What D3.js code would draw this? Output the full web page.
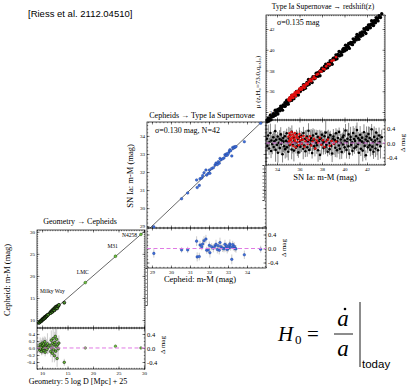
<!DOCTYPE html>
<html>
<head>
<meta charset="utf-8">
<script src="https://cdn.jsdelivr.net/npm/d3@7"></script>
<style>
body{margin:0;background:#fff;}
text{font-family:"Liberation Serif","Times New Roman",serif;fill:#000;}
.axis line{stroke:#000;stroke-width:0.5;}
</style>
</head>
<body>
<script>
// Geometry -> Cepheids (Milky Way parallaxes + anchors)
var mwX = [9.35,9.5,9.62,9.71,9.8,9.88,9.95,10.03,10.1,10.16,10.22,10.3,10.37,10.45,10.52,10.6,10.68,10.77,10.86,10.95,
  11.05,11.2,11.55,11.68,11.8,11.9,12.0,12.08,12.17,12.25,12.33,12.42,12.5,12.6,12.68,12.77,12.86,12.95,13.05,13.18,13.3,14.35];
var mwD = [0.02,-0.06,0.1,-0.03,0.05,-0.1,0.01,0.14,-0.05,0.07,-0.02,0.11,-0.08,0.03,0.18,-0.12,0.06,-0.01,0.09,-0.04,
  0.12,0.02,0.08,-0.1,0.22,0.0,-0.15,0.13,0.27,-0.05,0.09,-0.22,0.16,0.33,-0.09,0.05,0.25,-0.3,0.1,-0.02,0.14,-0.41];
var mwE = [0.15,0.1,0.2,0.12,0.18,0.09,0.22,0.14,0.11,0.25,0.13,0.17,0.1,0.2,0.15,0.12,0.24,0.09,0.16,0.13,
  0.3,0.18,0.22,0.15,0.28,0.2,0.26,0.17,0.32,0.21,0.25,0.19,0.3,0.23,0.27,0.2,0.31,0.24,0.18,0.26,0.22,0.1];
var anchNames = ["LMC","M31","N4258"];
var anchX = [18.48,24.4,29.4];
var anchD = [0.0,0.05,0.0];
var anchE = [0.03,0.05,0.03];

// Cepheids -> SN Ia (42 calibrators)
var cephX = [29.1,30.56,30.88,31.35,31.38,31.49,31.53,31.62,31.67,31.74,31.84,31.88,31.96,32.02,32.05,32.14,32.23,32.32,32.37,32.44,
  32.49,32.54,32.58,32.63,32.72,32.79,32.84,32.89,32.93,32.96,33.02,33.07,33.1,33.14,33.2,33.25,33.28,33.33,33.37,33.42,33.86,34.72];
var cephD = [-0.14,-0.04,-0.04,0.21,-0.24,-0.23,0.1,0.05,0.13,0.22,0.27,-0.05,-0.04,0.09,-0.12,0.05,0.01,0.07,0.12,-0.03,
  0.08,-0.05,0.17,0.05,0.01,-0.01,0.12,0.03,0.08,-0.03,0.01,0.08,0.13,0.04,-0.31,0.11,0.03,0.06,0.0,-0.01,-0.18,-0.02];
var cephE = [0.12,0.08,0.09,0.14,0.13,0.11,0.12,0.1,0.15,0.13,0.12,0.1,0.09,0.11,0.14,0.1,0.12,0.09,0.13,0.11,
  0.1,0.12,0.14,0.09,0.11,0.1,0.13,0.12,0.09,0.11,0.1,0.12,0.13,0.1,0.14,0.11,0.09,0.12,0.1,0.11,0.12,0.1];

// SN Ia -> redshift (black: Hubble flow sample, red: subsample)
var snX = [33.1,33.14,33.22,33.29,33.33,33.41,33.47,33.5,33.58,33.67,33.7,33.76,33.84,33.87,33.92,34.0,34.06,34.08,34.15,34.23,
  34.25,34.33,34.38,34.4,34.49,34.55,34.57,34.64,34.7,34.73,34.81,34.86,34.88,34.97,35.0,35.05,35.13,35.17,35.22,35.3,
  35.32,35.4,35.47,35.5,35.56,35.65,35.68,35.73,35.81,35.84,35.9,35.99,36.01,36.07,36.16,36.18,36.24,36.33,36.35,36.41,
  36.5,36.52,36.58,36.66,36.69,36.77,36.8,36.86,36.95,36.97,37.03,37.12,37.14,37.2,37.29,37.31,37.37,37.46,37.48,37.54,
  37.63,37.65,37.71,37.8,37.82,37.88,37.97,37.99,38.05,38.14,38.16,38.22,38.31,38.33,38.39,38.48,38.5,38.56,38.65,38.67,
  38.73,38.82,38.84,38.9,38.99,39.01,39.07,39.16,39.18,39.24,39.33,39.35,39.41,39.5,39.52,39.58,39.67,39.69,39.75,39.84,
  39.86,39.92,40.01,40.03,40.09,40.18,40.2,40.26,40.35,40.37,40.43,40.52,40.54,40.6,40.69,40.71,40.77,40.86,40.88,40.94,
  41.03,41.05,41.11,41.2,41.22,41.28,41.37,41.39,41.45,41.54,41.56,41.62,41.71,41.73,41.79,41.88,41.9,41.96,42.05,42.07,
  42.13,42.22,42.24,42.3,42.39,42.41,42.47,42.56,42.58,42.64,42.73,42.75,42.81,42.9,42.92,42.98,43.07,43.12,43.2,43.31];
var snD = [0.12,-0.08,0.21,-0.15,0.03,0.28,-0.22,0.07,-0.03,0.16,-0.11,0.05,0.33,-0.19,0.09,-0.05,0.18,-0.27,0.01,0.11,
  -0.14,0.24,-0.02,0.08,-0.31,0.14,0.04,-0.09,0.19,-0.17,0.06,0.27,-0.12,0.02,-0.24,0.13,-0.06,0.22,0.09,-0.18,
  0.31,-0.04,0.15,-0.21,0.07,0.01,-0.13,0.25,-0.08,0.11,-0.26,0.17,0.03,-0.1,0.2,-0.01,0.09,-0.16,0.28,-0.07,
  0.12,-0.23,0.05,0.18,-0.12,0.02,0.34,-0.19,0.08,-0.04,0.14,-0.28,0.06,0.21,-0.09,0.1,-0.15,0.01,0.26,-0.06,
  0.17,-0.2,0.04,0.11,-0.33,0.13,-0.03,0.23,0.07,-0.14,0.02,0.19,-0.11,0.29,-0.05,0.09,-0.24,0.15,0.0,-0.17,
  0.22,-0.08,0.06,-0.29,0.12,0.18,-0.02,0.08,-0.13,0.27,-0.2,0.04,0.14,-0.07,0.31,-0.16,0.1,0.01,-0.25,0.16,
  -0.04,0.21,-0.12,0.07,0.35,-0.19,0.03,0.12,-0.09,0.24,-0.3,0.09,0.17,-0.05,0.02,-0.22,0.28,0.11,-0.14,0.06,
  0.19,-0.1,0.36,-0.03,0.13,-0.27,0.08,0.23,-0.16,0.04,0.15,-0.21,0.01,0.3,-0.08,0.1,-0.34,0.18,0.05,-0.12,
  0.25,-0.06,0.14,-0.19,0.09,0.38,-0.1,0.02,-0.24,0.17,0.07,-0.15,0.29,-0.04,0.12,-0.2,0.21,0.03,-0.09,0.16];
var snE = [0.22,0.15,0.3,0.18,0.12,0.26,0.2,0.14,0.28,0.17,0.11,0.24,0.19,0.33,0.16,0.21,0.13,0.27,0.18,0.25,
  0.14,0.2,0.31,0.16,0.23,0.12,0.29,0.19,0.15,0.26,0.21,0.13,0.28,0.17,0.24,0.32,0.15,0.2,0.11,0.27,
  0.18,0.25,0.14,0.3,0.19,0.22,0.16,0.12,0.28,0.21,0.15,0.26,0.33,0.18,0.13,0.24,0.2,0.29,0.17,0.11,
  0.23,0.16,0.31,0.19,0.26,0.14,0.21,0.12,0.27,0.18,0.25,0.15,0.3,0.2,0.13,0.28,0.22,0.17,0.11,0.24,
  0.19,0.32,0.16,0.26,0.14,0.21,0.29,0.12,0.23,0.18,0.27,0.15,0.2,0.34,0.17,0.25,0.13,0.22,0.3,0.16,
  0.12,0.28,0.19,0.24,0.15,0.21,0.31,0.18,0.26,0.14,0.2,0.33,0.17,0.23,0.12,0.29,0.16,0.25,0.19,0.13,
  0.27,0.21,0.15,0.3,0.18,0.24,0.11,0.26,0.2,0.32,0.14,0.22,0.28,0.17,0.25,0.13,0.19,0.31,0.16,0.23,
  0.29,0.12,0.21,0.26,0.18,0.35,0.15,0.24,0.2,0.27,0.13,0.3,0.17,0.22,0.33,0.19,0.14,0.28,0.25,0.16,
  0.21,0.12,0.31,0.18,0.26,0.15,0.23,0.36,0.2,0.29,0.17,0.24,0.13,0.3,0.19,0.27,0.22,0.16,0.34,0.21];
var redX = [35.02,35.07,35.1,35.14,35.18,35.21,35.25,35.29,35.33,35.36,35.4,35.45,35.49,35.53,35.58,35.62,35.67,35.72,35.77,35.83,
  35.88,35.94,36.0,36.07,36.13,36.2,36.28,36.36,36.44,36.53,36.62,36.72,36.82,36.93,37.04,37.16,37.28,37.4,37.53,37.66,
  37.8,37.94,38.08,38.22,38.37,38.52,38.68,38.85,39.02,39.25];
var redD = [0.18,0.05,0.27,0.12,-0.04,0.22,0.09,0.31,0.15,0.02,0.24,-0.08,0.19,0.11,0.28,0.06,-0.12,0.16,0.21,0.03,
  0.13,-0.06,0.25,0.08,0.17,-0.02,0.1,0.2,-0.1,0.05,0.14,-0.03,0.09,0.19,-0.07,0.04,0.12,-0.15,0.07,0.01,
  0.15,-0.05,0.08,-0.11,0.03,0.1,-0.08,0.06,-0.02,0.04];

// tick labels
var p1Ticks = [10,15,20,25,30];
var p2Ticks = [29,30,31,32,33,34];
var p3Ticks = [34,36,38,40,42];
var resLeftTicks = [-0.4,-0.2,0,0.2,0.4];
var resRightTicks = [-0.4,0,0.4];

var svg = d3.select("body").append("svg")
    .attr("width", 408)
    .attr("height", 387);

var fmt1 = function(d){ return d.toFixed(1); };
var fmt0 = d3.format("d");

function addAxis(g, axis, tx, ty, fs){
  var a = g.append("g")
      .attr("class", "axis")
      .attr("transform", "translate(" + tx + "," + ty + ")")
      .call(axis);
  a.select(".domain").remove();
  a.selectAll("text").style("font-size", (fs || 5) + "px");
  return a;
}

var clipId = 0;
function panel(p){
  var x = d3.scaleLinear().domain(p.xd).range([p.left, p.right]);
  var y = d3.scaleLinear().domain(p.yd).range([p.mid, p.top]);
  var r = d3.scaleLinear().domain(p.rd).range([p.bottom, p.mid]);
  var g = svg.append("g");

  // minor ticks
  [p.top, p.mid].forEach(function(yy){
    addAxis(g, d3.axisTop(x).ticks(40).tickSize(-1.2).tickFormat(""), 0, yy);
  });
  [p.mid, p.bottom].forEach(function(yy){
    addAxis(g, d3.axisBottom(x).ticks(40).tickSize(-1.2).tickFormat(""), 0, yy);
  });
  addAxis(g, d3.axisLeft(y).ticks(40).tickSize(-1.2).tickFormat(""), p.left, 0);
  addAxis(g, d3.axisRight(y).ticks(40).tickSize(-1.2).tickFormat(""), p.right, 0);
  addAxis(g, d3.axisLeft(r).ticks(12).tickSize(-1.2).tickFormat(""), p.left, 0);
  addAxis(g, d3.axisRight(r).ticks(12).tickSize(-1.2).tickFormat(""), p.right, 0);

  // major ticks
  addAxis(g, d3.axisTop(x).tickValues(p.xt).tickSize(-2.5).tickFormat(""), 0, p.top);
  addAxis(g, d3.axisBottom(x).tickValues(p.xt).tickSize(-2.5).tickFormat(""), 0, p.mid);
  addAxis(g, d3.axisTop(x).tickValues(p.xt).tickSize(-2.5).tickFormat(""), 0, p.mid);
  addAxis(g, d3.axisBottom(x).tickValues(p.xt).tickSize(-2.5).tickPadding(2).tickFormat(fmt0), 0, p.bottom, 5);
  if (p.yInside) {
    addAxis(g, d3.axisRight(y).tickValues(p.xt).tickSize(2.5).tickPadding(1).tickFormat(fmt0), p.left, 0, 5);
  } else {
    addAxis(g, d3.axisLeft(y).tickValues(p.xt).tickSize(-2.5).tickPadding(2).tickFormat(fmt0), p.left, 0, 5);
  }
  addAxis(g, d3.axisRight(y).tickValues(p.xt).tickSize(-2.5).tickFormat(""), p.right, 0);
  if (p.resLeft) {
    addAxis(g, d3.axisLeft(r).tickValues(resLeftTicks).tickSize(-2.5).tickPadding(2).tickFormat(fmt1), p.left, 0, 5);
  } else {
    addAxis(g, d3.axisLeft(r).tickValues(resRightTicks).tickSize(-2.5).tickFormat(""), p.left, 0);
  }
  addAxis(g, d3.axisRight(r).tickValues(resRightTicks).tickSize(-2.5).tickPadding(2).tickFormat(fmt1), p.right, 0, 6.5);

  // frames
  g.append("rect")
      .attr("x", p.left).attr("y", p.top)
      .attr("width", p.right - p.left).attr("height", p.bottom - p.top)
      .attr("fill", "none").attr("stroke", "#000").attr("stroke-width", 0.7);
  g.append("line")
      .attr("x1", p.left).attr("x2", p.right)
      .attr("y1", p.mid).attr("y2", p.mid)
      .attr("stroke", "#000").attr("stroke-width", 1.2);

  // 1:1 line
  var lo = Math.max(p.xd[0], p.yd[0]), hi = Math.min(p.xd[1], p.yd[1]);
  g.append("line")
      .attr("x1", x(lo)).attr("y1", y(lo))
      .attr("x2", x(hi)).attr("y2", y(hi))
      .attr("stroke", "#000").attr("stroke-width", 0.6);

  clipId++;
  svg.append("clipPath").attr("id", "rc" + clipId)
    .append("rect")
      .attr("x", p.left).attr("y", p.mid)
      .attr("width", p.right - p.left).attr("height", p.bottom - p.mid);
  var rg = g.append("g").attr("clip-path", "url(#rc" + clipId + ")");

  return {x: x, y: y, r: r, g: g, rg: rg, p: p};
}

function zeroLine(pn){
  pn.g.append("line")
      .attr("x1", pn.p.left).attr("x2", pn.p.right)
      .attr("y1", pn.r(0)).attr("y2", pn.r(0))
      .attr("stroke", "#e07ae4").attr("stroke-width", 1)
      .attr("stroke-dasharray", "4,2.5");
}

function errBars(rg, xs, ds, es, x, r, col, w){
  rg.selectAll(null)
      .data(xs)
    .enter().append("line")
      .attr("x1", function(d){ return x(d); })
      .attr("x2", function(d){ return x(d); })
      .attr("y1", function(d,i){ return r(ds[i] - es[i]); })
      .attr("y2", function(d,i){ return r(ds[i] + es[i]); })
      .attr("stroke", col).attr("stroke-width", w || 0.5);
}

function dots(g, xs, ys, x, y, rad, fill, stroke, sw){
  g.selectAll(null)
      .data(xs)
    .enter().append("circle")
      .attr("cx", function(d){ return x(d); })
      .attr("cy", function(d,i){ return y(ys[i]); })
      .attr("r", rad)
      .attr("fill", fill)
      .attr("stroke", stroke)
      .attr("stroke-width", stroke == "none" ? 0 : (sw || 0.4));
}

// ---------- panel 3 : SN Ia -> redshift ----------
var p3 = panel({left: 266, right: 385, top: 15, mid: 120, bottom: 165,
  xd: [33.02, 43.6], yd: [33.23, 43.35], rd: [-0.61, 0.64], xt: p3Ticks, yInside: true});
errBars(p3.rg, snX, snD, snE, p3.x, p3.r, "#555", 0.7);
dots(p3.rg, snX, snD, p3.x, p3.r, 1.3, "#000", "none");
zeroLine(p3);
dots(p3.rg, redX, redD, p3.x, p3.r, 1.2, "#e41010", "none");
dots(p3.g, snX, snX.map(function(d,i){ return d + snD[i]; }), p3.x, p3.y, 1.7, "#000", "none");
dots(p3.g, redX, redX.map(function(d,i){ return d + redD[i]; }), p3.x, p3.y, 1.4, "#e41010", "none");

// ---------- panel 2 : Cepheids -> SN Ia ----------
var p2 = panel({left: 147, right: 266, top: 122, mid: 228, bottom: 268,
  xd: [28.74, 35.0], yd: [28.9, 34.77], rd: [-0.557, 0.586], xt: p2Ticks});
zeroLine(p2);
errBars(p2.rg, cephX, cephD, cephE, p2.x, p2.r, "#999");
dots(p2.rg, cephX, cephD, p2.x, p2.r, 1.3, "#3d6fdc", "#1b3a8a");
dots(p2.g, cephX, cephX.map(function(d,i){ return d + cephD[i]; }), p2.x, p2.y, 1.3, "#3d6fdc", "#1b3a8a");

// ---------- panel 1 : Geometry -> Cepheids ----------
var p1 = panel({left: 37, right: 145, top: 230, mid: 328, bottom: 369,
  xd: [9.0, 30.2], yd: [8.2, 30.4], rd: [-0.6, 0.57], xt: p1Ticks, resLeft: true});
zeroLine(p1);
errBars(p1.rg, mwX, mwD, mwE, p1.x, p1.r, "#999");
errBars(p1.rg, anchX, anchD, anchE, p1.x, p1.r, "#999");
dots(p1.rg, mwX, mwD, p1.x, p1.r, 1.3, "#6cc23c", "#000", 0.5);
dots(p1.rg, anchX, anchD, p1.x, p1.r, 1.3, "#6cc23c", "#1a3a0a");
dots(p1.g, mwX, mwX.map(function(d,i){ return d + mwD[i]; }), p1.x, p1.y, 1.5, "#4f9a2a", "#000", 0.7);
dots(p1.g, anchX, anchX.map(function(d,i){ return d + anchD[i]; }), p1.x, p1.y, 1.4, "#6cc23c", "#1a3a0a");

// anchor names
var anchOff = [[-8.5, -9], [-8, -8], [-19, 2.5]];
p1.g.selectAll(".anch")
    .data(anchNames)
  .enter().append("text")
    .attr("x", function(d,i){ return p1.x(anchX[i]) + anchOff[i][0]; })
    .attr("y", function(d,i){ return p1.y(anchX[i] + anchD[i]) + anchOff[i][1]; })
    .style("font-size", "5.5px")
    .text(function(d){ return d; });
p1.g.append("text")
    .attr("x", p1.x(9.6)).attr("y", p1.y(16.2))
    .style("font-size", "5.5px")
    .text("Milky Way");

// extra axis stubs below the panels
function stub(xx, y0, y1){
  var s = d3.scaleLinear().domain([0, 1]).range([y1, y0]);
  var a = svg.append("g").attr("class", "axis")
      .attr("transform", "translate(" + xx + ",0)")
      .call(d3.axisLeft(s).ticks(14).tickSize(1.5).tickFormat(""));
  a.select(".domain").attr("stroke", "#000").attr("stroke-width", 0.5);
}
stub(147, 268, 305);
stub(264, 165, 200);

// ---------- texts ----------
function label(x, y, txt, fs, rot, anchor){
  svg.append("text")
      .attr("transform", "translate(" + x + "," + y + ")" + (rot ? " rotate(-90)" : ""))
      .style("font-size", fs + "px")
      .style("text-anchor", anchor || "middle")
      .text(txt);
}
label(80, 224, "Geometry \u2192 Cepheids", 8);
label(10, 280, "Cepheid: m-M (mag)", 8.5, true);
label(78, 384, "Geometry: 5 log D [Mpc] + 25", 8);
label(165, 345, "\u0394 mag", 7, true);

label(202, 118, "Cepheids \u2192 Type Ia Supernovae", 8);
label(155, 133, "\u03c3=0.130 mag, N=42", 8, false, "start");
label(133, 176, "SN Ia: m-M (mag)", 8.5, true);
label(200, 282, "Cepheid: m-M (mag)", 8.5);
label(286, 248, "\u0394 mag", 7, true);

label(323, 9, "Type Ia Supernovae \u2192 redshift(z)", 7.5);
label(277, 25, "\u03c3=0.135 mag", 8, false, "start");
label(260, 82, "\u03bc (z,H\u2080=73.0,q\u2080,j\u2080)", 7, true);
label(325, 180, "SN Ia: m-M (mag)", 8.5);
label(405, 143, "\u0394 mag", 7, true);

svg.append("text")
    .attr("x", 28).attr("y", 17)
    .style("font-family", "'Liberation Sans', Arial, sans-serif")
    .style("font-size", "9.5px")
    .text("[Riess et al.  2112.04510]");

// H0 = a-dot / a |today
var f = svg.append("g");
f.append("text").attr("x", 278).attr("y", 341)
    .style("font-size", "21px").style("font-style", "italic").text("H");
f.append("text").attr("x", 295).attr("y", 344)
    .style("font-size", "13px").text("0");
f.append("text").attr("x", 307).attr("y", 341)
    .style("font-size", "21px").text("=");
f.append("text").attr("x", 343).attr("y", 326)
    .style("font-size", "23px").style("font-style", "italic").style("text-anchor", "middle").text("a");
f.append("circle").attr("cx", 345).attr("cy", 309).attr("r", 1.3).attr("fill", "#000");
f.append("line").attr("x1", 334).attr("x2", 353).attr("y1", 334).attr("y2", 334)
    .attr("stroke", "#000").attr("stroke-width", 0.9);
f.append("text").attr("x", 343).attr("y", 356)
    .style("font-size", "23px").style("font-style", "italic").style("text-anchor", "middle").text("a");
f.append("line").attr("x1", 360).attr("x2", 360).attr("y1", 302).attr("y2", 367)
    .attr("stroke", "#000").attr("stroke-width", 0.9);
f.append("text").attr("x", 362).attr("y", 368)
    .style("font-family", "'Liberation Sans', Arial, sans-serif")
    .style("font-size", "11.5px").text("today");
</script>
</body>
</html>
